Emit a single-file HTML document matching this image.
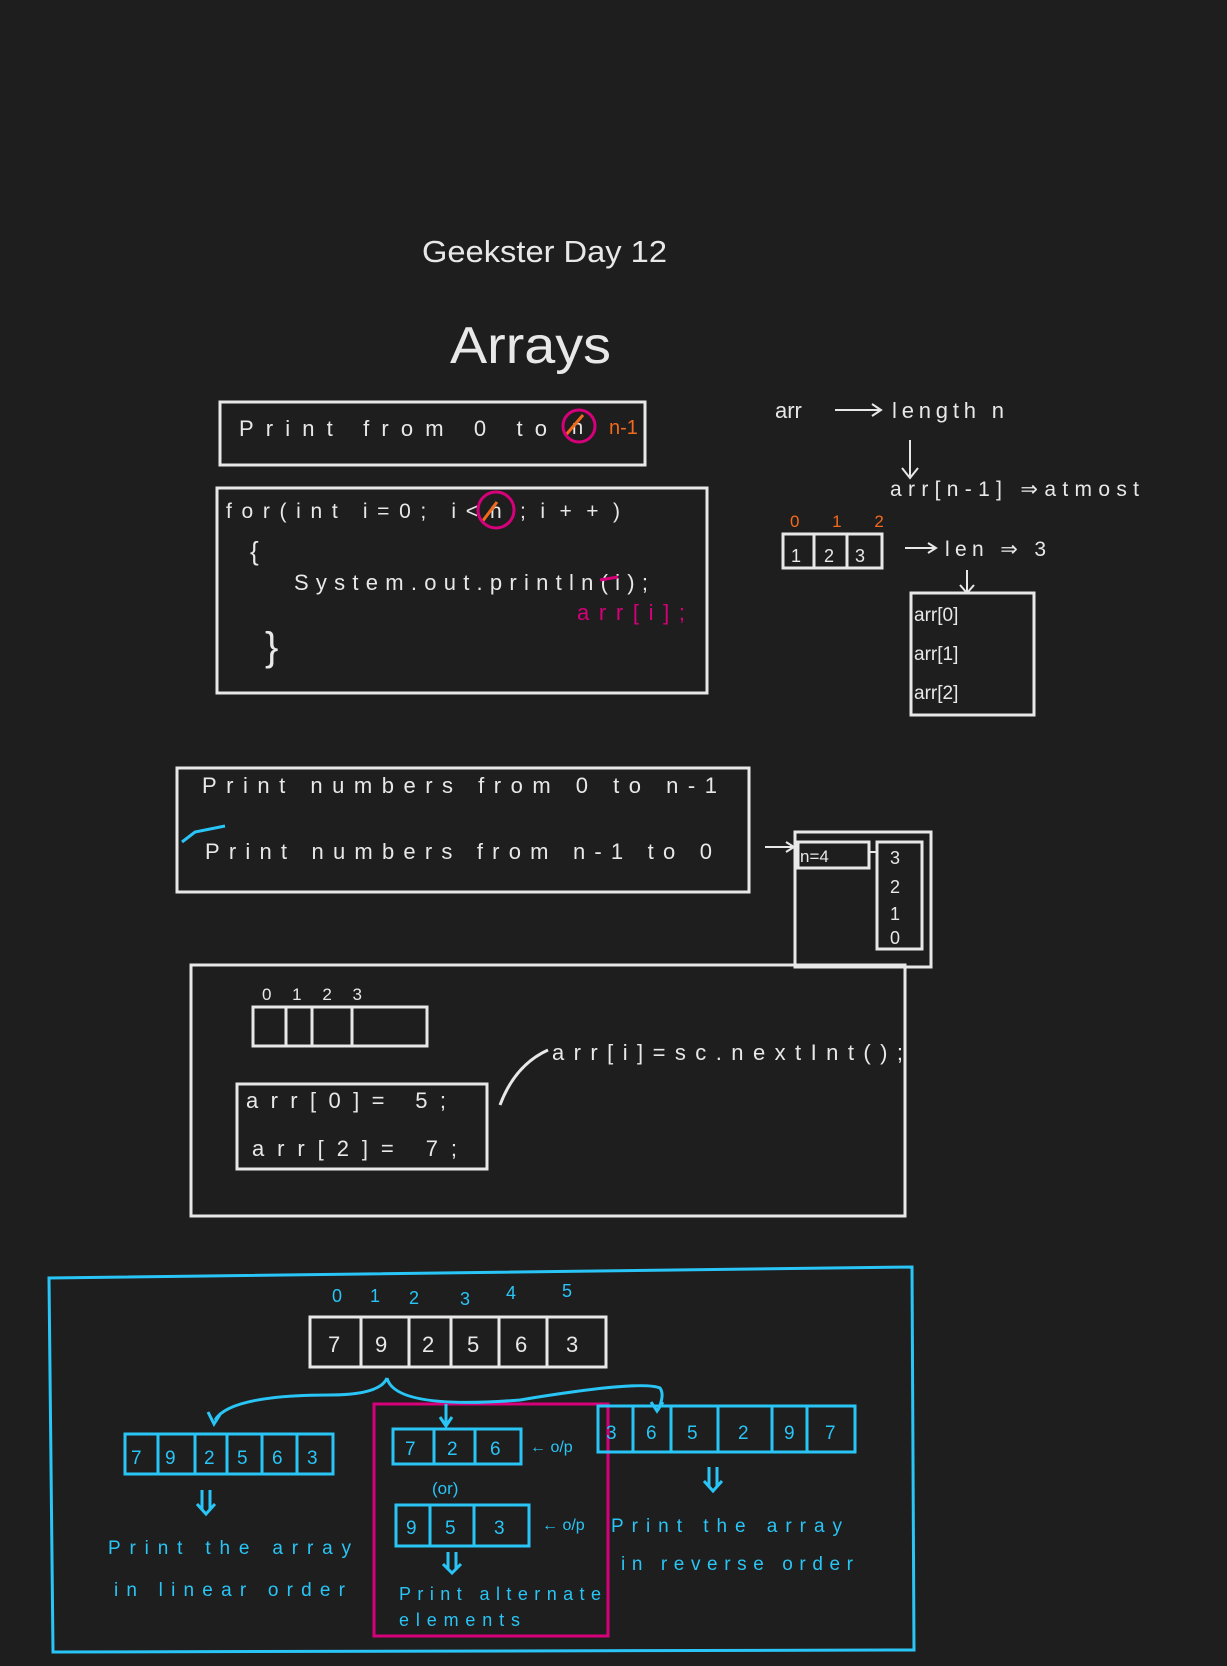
<!DOCTYPE html>
<html><head><meta charset="utf-8"><style>
html,body{margin:0;padding:0;background:#1e1e1e;}
svg{display:block}
text{font-family:"Liberation Sans",sans-serif;}
</style></head><body>
<svg width="1227" height="1666" viewBox="0 0 1227 1666" xmlns="http://www.w3.org/2000/svg">
<rect width="1227" height="1666" fill="#1e1e1e"/>
<g fill="#e8e8e8">
<text x="422" y="262" font-size="31" textLength="245" lengthAdjust="spacingAndGlyphs">Geekster Day 12</text>
<text x="450" y="363" font-size="52" textLength="161" lengthAdjust="spacingAndGlyphs">Arrays</text>
</g>
<g fill="none" stroke="#e8e8e8" stroke-width="3">
<rect x="220" y="402" width="425" height="63"/>
<rect x="217" y="488" width="490" height="205"/>
<rect x="783" y="534" width="99" height="34"/>
<line x1="814" y1="535" x2="814" y2="567"/>
<line x1="847" y1="535" x2="847" y2="567"/>
<rect x="911" y="593" width="123" height="122"/>
<rect x="177" y="768" width="572" height="124"/>
<rect x="795" y="832" width="136" height="135"/>
<rect x="798" y="842" width="71" height="26"/>
<rect x="877" y="842" width="45" height="107"/>
<rect x="191" y="965" width="714" height="251"/>
<rect x="253" y="1007" width="174" height="39"/>
<line x1="286" y1="1007" x2="286" y2="1046"/>
<line x1="312" y1="1007" x2="312" y2="1046"/>
<line x1="352" y1="1007" x2="352" y2="1046"/>
<rect x="237" y="1084" width="250" height="85"/>
<path d="M500 1105 Q515 1065 548 1050"/>
<rect x="310" y="1317" width="296" height="50"/>
<line x1="361" y1="1317" x2="361" y2="1367"/><line x1="409" y1="1317" x2="409" y2="1367"/><line x1="451" y1="1317" x2="451" y2="1367"/><line x1="499" y1="1317" x2="499" y2="1367"/><line x1="547" y1="1317" x2="547" y2="1367"/>
<path d="M910 440 v36 M902 468 l8 10 l8 -10" stroke-width="2"/>
<path d="M967 570 v22 M960 585 l7 8 l7 -8" stroke-width="2"/>
<path d="M835 410 h45 M872 404 l9 6 l-9 6" stroke-width="2"/>
<path d="M905 548 h30 M928 543 l8 5 l-8 5" stroke-width="2"/>
<path d="M765 847 h28 M786 842 l8 5 l-8 5" stroke-width="2"/>
<path d="M870 852 h8" stroke-width="2"/>
</g>
<g fill="#e8e8e8" font-size="22">
<text x="239" y="436" textLength="308" lengthAdjust="spacing">Print from 0 to</text>
<text x="572" y="434" font-size="20">n</text>
<text x="226" y="518" font-size="21" textLength="252" lengthAdjust="spacing">for(int i=0; i&lt;</text>
<text x="490" y="518" font-size="21">n</text>
<text x="520" y="518" font-size="21" textLength="100" lengthAdjust="spacing">;i++)</text>
<text x="250" y="560" font-size="26">{</text>
<text x="294" y="590" textLength="354" lengthAdjust="spacing">System.out.println(i);</text>
<text x="265" y="660" font-size="40">}</text>
<text x="775" y="418" font-size="22">arr</text>
<text x="892" y="418" font-size="22" textLength="112" lengthAdjust="spacing">length n</text>
<text x="890" y="496" font-size="21" textLength="249" lengthAdjust="spacing">arr[n-1] ⇒atmost</text>
<text x="791" y="562" font-size="18">1</text><text x="824" y="562" font-size="18">2</text><text x="855" y="562" font-size="18">3</text>
<text x="945" y="556" font-size="21" textLength="101" lengthAdjust="spacing">len ⇒ 3</text>
<text x="914" y="621" font-size="19">arr[0]</text>
<text x="914" y="660" font-size="19">arr[1]</text>
<text x="914" y="699" font-size="19">arr[2]</text>
<text x="202" y="793" textLength="515" lengthAdjust="spacing">Print numbers from 0 to n-1</text>
<text x="205" y="859" textLength="507" lengthAdjust="spacing">Print numbers from n-1 to 0</text>
<text x="800" y="862" font-size="17">n=4</text>
<text x="890" y="864" font-size="18">3</text>
<text x="890" y="893" font-size="18">2</text>
<text x="890" y="920" font-size="18">1</text>
<text x="890" y="944" font-size="18">0</text>
<text x="262" y="1000" font-size="17" letter-spacing="8">0 1 2 3</text>
<text x="246" y="1108" font-size="22" textLength="200" lengthAdjust="spacing">arr[0]= 5;</text>
<text x="252" y="1156" font-size="22" textLength="205" lengthAdjust="spacing">arr[2]= 7;</text>
<text x="552" y="1060" font-size="22" textLength="351" lengthAdjust="spacing">arr[i]=sc.nextInt();</text>
<text x="328" y="1352" font-size="22">7</text><text x="375" y="1352" font-size="22">9</text><text x="422" y="1352" font-size="22">2</text><text x="467" y="1352" font-size="22">5</text><text x="515" y="1352" font-size="22">6</text><text x="566" y="1352" font-size="22">3</text>
</g>
<g fill="#f26a1b" font-size="20">
<text x="609" y="434">n-1</text>
<text x="790" y="527" font-size="17" letter-spacing="14">0 1 2</text>
</g>
<g stroke="#f26a1b" stroke-width="3"><line x1="565" y1="436" x2="583" y2="415"/><line x1="482" y1="522" x2="497" y2="502"/></g>
<g fill="none" stroke="#d6007a" stroke-width="3">
<circle cx="579" cy="426" r="16"/>
<circle cx="496" cy="510" r="18"/>
<line x1="600" y1="580" x2="618" y2="577"/>
<rect x="374" y="1404" width="234" height="232"/>
</g>
<text x="577" y="620" fill="#d6007a" font-size="22" textLength="108" lengthAdjust="spacing">arr[i];</text>
<path d="M182 842 L195 832 L225 826" stroke="#29c5f6" stroke-width="3" fill="none"/>
<g fill="none" stroke="#29c5f6" stroke-width="3">
<path d="M49 1278 L912 1267 L914 1650 L53 1652 Z"/>
<rect x="125" y="1434" width="208" height="40"/>
<line x1="158" y1="1434" x2="158" y2="1474"/><line x1="195" y1="1434" x2="195" y2="1474"/><line x1="227" y1="1434" x2="227" y2="1474"/><line x1="262" y1="1434" x2="262" y2="1474"/><line x1="297" y1="1434" x2="297" y2="1474"/>
<rect x="393" y="1429" width="128" height="35"/>
<line x1="434" y1="1429" x2="434" y2="1464"/><line x1="475" y1="1429" x2="475" y2="1464"/>
<rect x="396" y="1505" width="133" height="41"/>
<line x1="430" y1="1505" x2="430" y2="1546"/><line x1="474" y1="1505" x2="474" y2="1546"/>
<rect x="598" y="1406" width="257" height="46"/>
<line x1="633" y1="1406" x2="633" y2="1452"/><line x1="671" y1="1406" x2="671" y2="1452"/><line x1="718" y1="1406" x2="718" y2="1452"/><line x1="772" y1="1406" x2="772" y2="1452"/><line x1="807" y1="1406" x2="807" y2="1452"/>
<path d="M387 1378 Q380 1395 330 1395 Q230 1395 215 1420 M208 1412 l6 12 l7 -11"/>
<path d="M387 1378 Q395 1410 520 1400 Q640 1380 660 1388 Q665 1395 658 1410 M651 1402 l6 9 l6 -9"/>
<path d="M446 1404 v22 M440 1417 l6 9 l6 -9"/>
<path d="M202 1490 v20 M210 1490 v20 M197 1504 l9 10 l9 -10"/>
<path d="M709 1467 v20 M717 1467 v20 M704 1481 l9 10 l9 -10"/>
<path d="M448 1552 v18 M456 1552 v18 M443 1564 l9 9 l9 -9"/>
</g>
<g fill="#29c5f6" font-size="19">
<text x="332" y="1302" font-size="18">0</text><text x="370" y="1302" font-size="18">1</text><text x="409" y="1304" font-size="18">2</text><text x="460" y="1305" font-size="18">3</text><text x="506" y="1299" font-size="18">4</text><text x="562" y="1297" font-size="18">5</text>
<text x="131" y="1464">7</text><text x="165" y="1464">9</text><text x="204" y="1464">2</text><text x="237" y="1464">5</text><text x="272" y="1464">6</text><text x="307" y="1464">3</text>
<text x="405" y="1455">7</text><text x="447" y="1455">2</text><text x="490" y="1455">6</text>
<text x="406" y="1534">9</text><text x="445" y="1534">5</text><text x="494" y="1534">3</text>
<text x="606" y="1439">3</text><text x="646" y="1439">6</text><text x="687" y="1439">5</text><text x="738" y="1439">2</text><text x="784" y="1439">9</text><text x="825" y="1439">7</text>
<text x="530" y="1452" font-size="16">← o/p</text>
<text x="542" y="1530" font-size="16">← o/p</text>
<text x="432" y="1494" font-size="17">(or)</text>
<text x="108" y="1554" textLength="243" lengthAdjust="spacing">Print the array</text>
<text x="114" y="1596" textLength="231" lengthAdjust="spacing">in linear order</text>
<text x="611" y="1532" textLength="231" lengthAdjust="spacing">Print the array</text>
<text x="621" y="1570" textLength="232" lengthAdjust="spacing">in reverse order</text>
<text x="399" y="1600" font-size="18" textLength="202" lengthAdjust="spacing">Print alternate</text>
<text x="399" y="1626" font-size="18" textLength="121" lengthAdjust="spacing">elements</text>
</g>
</svg>
</body></html>
